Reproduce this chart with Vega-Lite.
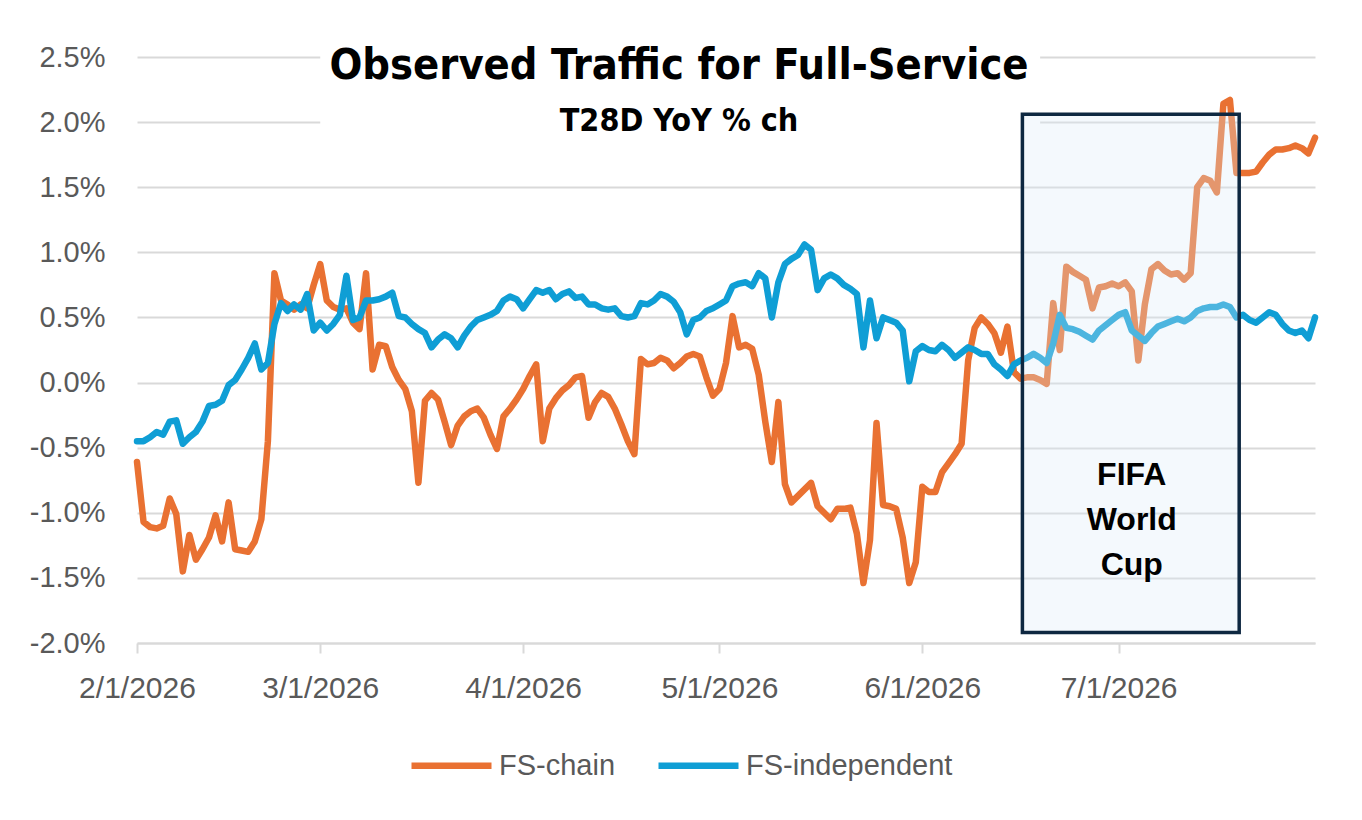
{
  "$schema": "https://vega.github.io/schema/vega-lite/v6.json",
  "width": 1178,
  "height": 586,
  "autosize": {"type": "none"},
  "padding": {"left": 137, "top": 57, "right": 47, "bottom": 177},
  "background": "white",
  "title": {
    "text": "Observed Traffic for Full-Service",
    "subtitle": "T28D YoY % ch",
    "anchor": "middle",
    "dx": -47,
    "offset": -96,
    "zindex": 1,
    "font": "Liberation Sans Narrow, DejaVu Sans Condensed, sans-serif",
    "fontSize": 43,
    "fontWeight": "bold",
    "color": "black",
    "subtitleFont": "Liberation Sans Narrow, DejaVu Sans Condensed, sans-serif",
    "subtitleFontSize": 32,
    "subtitleFontWeight": "bold",
    "subtitleColor": "black",
    "subtitlePadding": 18
  },
  "encoding": {
    "x": {
      "field": "d",
      "type": "temporal",
      "title": null,
      "scale": {
        "type": "utc",
        "domain": [
          {"year": 2026, "month": 2, "date": 1, "utc": true},
          {"year": 2026, "month": 7, "date": 31, "utc": true}
        ]
      },
      "axis": {
        "values": [
          {"year": 2026, "month": 2, "date": 1, "utc": true},
          {"year": 2026, "month": 3, "date": 1, "utc": true},
          {"year": 2026, "month": 4, "date": 1, "utc": true},
          {"year": 2026, "month": 5, "date": 1, "utc": true},
          {"year": 2026, "month": 6, "date": 1, "utc": true},
          {"year": 2026, "month": 7, "date": 1, "utc": true}
        ],
        "format": "%-m/%-d/%Y",
        "grid": false,
        "labelFlush": false,
        "labelOverlap": false,
        "domainColor": "#d9d9d9",
        "domainWidth": 2,
        "tickColor": "#d9d9d9",
        "tickWidth": 2,
        "tickSize": 10,
        "labelFontSize": 30,
        "labelColor": "#595959",
        "labelPadding": 20
      }
    },
    "y": {
      "field": "v",
      "type": "quantitative",
      "title": null,
      "scale": {"domain": [-2, 2.5], "nice": false, "zero": false},
      "axis": {
        "values": [-2, -1.5, -1, -0.5, 0, 0.5, 1, 1.5, 2, 2.5],
        "labelExpr": "(datum.value < 0 ? '-' : '') + format(abs(datum.value), '.1f') + '%'",
        "grid": true,
        "gridColor": "#d9d9d9",
        "gridWidth": 2,
        "domain": false,
        "ticks": false,
        "labelFontSize": 29,
        "labelColor": "#595959",
        "labelPadding": 32
      }
    }
  },
  "layer": [
    {
      "data": {"values": [{"d": "2026-03-01", "d2": "2026-06-19", "v": 1.96, "v2": 2.62}]},
      "mark": {"type": "rect", "fill": "white", "clip": false},
      "encoding": {
        "x2": {"field": "d2"},
        "y2": {"field": "v2"}
      }
    },
    {
      "data": {
        "values": [
          {"d": "2026-02-01", "FS-chain": -0.61, "FS-independent": -0.45},
          {"d": "2026-02-02", "FS-chain": -1.07, "FS-independent": -0.45},
          {"d": "2026-02-03", "FS-chain": -1.11, "FS-independent": -0.42},
          {"d": "2026-02-04", "FS-chain": -1.12, "FS-independent": -0.38},
          {"d": "2026-02-05", "FS-chain": -1.10, "FS-independent": -0.40},
          {"d": "2026-02-06", "FS-chain": -0.89, "FS-independent": -0.30},
          {"d": "2026-02-07", "FS-chain": -1.01, "FS-independent": -0.29},
          {"d": "2026-02-08", "FS-chain": -1.45, "FS-independent": -0.47},
          {"d": "2026-02-09", "FS-chain": -1.17, "FS-independent": -0.42},
          {"d": "2026-02-10", "FS-chain": -1.36, "FS-independent": -0.38},
          {"d": "2026-02-11", "FS-chain": -1.28, "FS-independent": -0.30},
          {"d": "2026-02-12", "FS-chain": -1.19, "FS-independent": -0.18},
          {"d": "2026-02-13", "FS-chain": -1.02, "FS-independent": -0.17},
          {"d": "2026-02-14", "FS-chain": -1.22, "FS-independent": -0.14},
          {"d": "2026-02-15", "FS-chain": -0.92, "FS-independent": -0.02},
          {"d": "2026-02-16", "FS-chain": -1.28, "FS-independent": 0.02},
          {"d": "2026-02-17", "FS-chain": -1.29, "FS-independent": 0.10},
          {"d": "2026-02-18", "FS-chain": -1.30, "FS-independent": 0.19},
          {"d": "2026-02-19", "FS-chain": -1.22, "FS-independent": 0.30},
          {"d": "2026-02-20", "FS-chain": -1.05, "FS-independent": 0.10},
          {"d": "2026-02-21", "FS-chain": -0.45, "FS-independent": 0.15},
          {"d": "2026-02-22", "FS-chain": 0.84, "FS-independent": 0.45},
          {"d": "2026-02-23", "FS-chain": 0.63, "FS-independent": 0.61},
          {"d": "2026-02-24", "FS-chain": 0.60, "FS-independent": 0.55},
          {"d": "2026-02-25", "FS-chain": 0.56, "FS-independent": 0.60},
          {"d": "2026-02-26", "FS-chain": 0.60, "FS-independent": 0.56},
          {"d": "2026-02-27", "FS-chain": 0.57, "FS-independent": 0.68},
          {"d": "2026-02-28", "FS-chain": 0.75, "FS-independent": 0.40},
          {"d": "2026-03-01", "FS-chain": 0.91, "FS-independent": 0.46},
          {"d": "2026-03-02", "FS-chain": 0.63, "FS-independent": 0.40},
          {"d": "2026-03-03", "FS-chain": 0.58, "FS-independent": 0.45},
          {"d": "2026-03-04", "FS-chain": 0.56, "FS-independent": 0.52},
          {"d": "2026-03-05", "FS-chain": 0.57, "FS-independent": 0.82},
          {"d": "2026-03-06", "FS-chain": 0.46, "FS-independent": 0.48},
          {"d": "2026-03-07", "FS-chain": 0.41, "FS-independent": 0.50},
          {"d": "2026-03-08", "FS-chain": 0.84, "FS-independent": 0.63},
          {"d": "2026-03-09", "FS-chain": 0.10, "FS-independent": 0.63},
          {"d": "2026-03-10", "FS-chain": 0.29, "FS-independent": 0.64},
          {"d": "2026-03-11", "FS-chain": 0.28, "FS-independent": 0.66},
          {"d": "2026-03-12", "FS-chain": 0.12, "FS-independent": 0.69},
          {"d": "2026-03-13", "FS-chain": 0.02, "FS-independent": 0.51},
          {"d": "2026-03-14", "FS-chain": -0.05, "FS-independent": 0.50},
          {"d": "2026-03-15", "FS-chain": -0.22, "FS-independent": 0.45},
          {"d": "2026-03-16", "FS-chain": -0.77, "FS-independent": 0.41},
          {"d": "2026-03-17", "FS-chain": -0.14, "FS-independent": 0.38},
          {"d": "2026-03-18", "FS-chain": -0.08, "FS-independent": 0.27},
          {"d": "2026-03-19", "FS-chain": -0.13, "FS-independent": 0.33},
          {"d": "2026-03-20", "FS-chain": -0.30, "FS-independent": 0.37},
          {"d": "2026-03-21", "FS-chain": -0.48, "FS-independent": 0.34},
          {"d": "2026-03-22", "FS-chain": -0.33, "FS-independent": 0.27},
          {"d": "2026-03-23", "FS-chain": -0.26, "FS-independent": 0.36},
          {"d": "2026-03-24", "FS-chain": -0.22, "FS-independent": 0.43},
          {"d": "2026-03-25", "FS-chain": -0.20, "FS-independent": 0.48},
          {"d": "2026-03-26", "FS-chain": -0.27, "FS-independent": 0.50},
          {"d": "2026-03-27", "FS-chain": -0.40, "FS-independent": 0.52},
          {"d": "2026-03-28", "FS-chain": -0.51, "FS-independent": 0.55},
          {"d": "2026-03-29", "FS-chain": -0.26, "FS-independent": 0.63},
          {"d": "2026-03-30", "FS-chain": -0.20, "FS-independent": 0.66},
          {"d": "2026-03-31", "FS-chain": -0.13, "FS-independent": 0.64},
          {"d": "2026-04-01", "FS-chain": -0.05, "FS-independent": 0.57},
          {"d": "2026-04-02", "FS-chain": 0.05, "FS-independent": 0.64},
          {"d": "2026-04-03", "FS-chain": 0.14, "FS-independent": 0.71},
          {"d": "2026-04-04", "FS-chain": -0.45, "FS-independent": 0.69},
          {"d": "2026-04-05", "FS-chain": -0.20, "FS-independent": 0.71},
          {"d": "2026-04-06", "FS-chain": -0.12, "FS-independent": 0.64},
          {"d": "2026-04-07", "FS-chain": -0.06, "FS-independent": 0.68},
          {"d": "2026-04-08", "FS-chain": -0.02, "FS-independent": 0.70},
          {"d": "2026-04-09", "FS-chain": 0.04, "FS-independent": 0.65},
          {"d": "2026-04-10", "FS-chain": 0.05, "FS-independent": 0.66},
          {"d": "2026-04-11", "FS-chain": -0.27, "FS-independent": 0.60},
          {"d": "2026-04-12", "FS-chain": -0.15, "FS-independent": 0.60},
          {"d": "2026-04-13", "FS-chain": -0.08, "FS-independent": 0.57},
          {"d": "2026-04-14", "FS-chain": -0.11, "FS-independent": 0.56},
          {"d": "2026-04-15", "FS-chain": -0.20, "FS-independent": 0.57},
          {"d": "2026-04-16", "FS-chain": -0.32, "FS-independent": 0.51},
          {"d": "2026-04-17", "FS-chain": -0.45, "FS-independent": 0.50},
          {"d": "2026-04-18", "FS-chain": -0.55, "FS-independent": 0.51},
          {"d": "2026-04-19", "FS-chain": 0.18, "FS-independent": 0.61},
          {"d": "2026-04-20", "FS-chain": 0.14, "FS-independent": 0.60},
          {"d": "2026-04-21", "FS-chain": 0.15, "FS-independent": 0.63},
          {"d": "2026-04-22", "FS-chain": 0.19, "FS-independent": 0.68},
          {"d": "2026-04-23", "FS-chain": 0.17, "FS-independent": 0.66},
          {"d": "2026-04-24", "FS-chain": 0.11, "FS-independent": 0.62},
          {"d": "2026-04-25", "FS-chain": 0.15, "FS-independent": 0.54},
          {"d": "2026-04-26", "FS-chain": 0.20, "FS-independent": 0.37},
          {"d": "2026-04-27", "FS-chain": 0.22, "FS-independent": 0.48},
          {"d": "2026-04-28", "FS-chain": 0.20, "FS-independent": 0.50},
          {"d": "2026-04-29", "FS-chain": 0.04, "FS-independent": 0.55},
          {"d": "2026-04-30", "FS-chain": -0.10, "FS-independent": 0.57},
          {"d": "2026-05-01", "FS-chain": -0.05, "FS-independent": 0.60},
          {"d": "2026-05-02", "FS-chain": 0.15, "FS-independent": 0.63},
          {"d": "2026-05-03", "FS-chain": 0.51, "FS-independent": 0.74},
          {"d": "2026-05-04", "FS-chain": 0.27, "FS-independent": 0.76},
          {"d": "2026-05-05", "FS-chain": 0.29, "FS-independent": 0.77},
          {"d": "2026-05-06", "FS-chain": 0.26, "FS-independent": 0.74},
          {"d": "2026-05-07", "FS-chain": 0.06, "FS-independent": 0.84},
          {"d": "2026-05-08", "FS-chain": -0.30, "FS-independent": 0.80},
          {"d": "2026-05-09", "FS-chain": -0.61, "FS-independent": 0.50},
          {"d": "2026-05-10", "FS-chain": -0.15, "FS-independent": 0.77},
          {"d": "2026-05-11", "FS-chain": -0.78, "FS-independent": 0.91},
          {"d": "2026-05-12", "FS-chain": -0.92, "FS-independent": 0.95},
          {"d": "2026-05-13", "FS-chain": -0.87, "FS-independent": 0.98},
          {"d": "2026-05-14", "FS-chain": -0.82, "FS-independent": 1.06},
          {"d": "2026-05-15", "FS-chain": -0.77, "FS-independent": 1.02},
          {"d": "2026-05-16", "FS-chain": -0.95, "FS-independent": 0.71},
          {"d": "2026-05-17", "FS-chain": -1.00, "FS-independent": 0.80},
          {"d": "2026-05-18", "FS-chain": -1.05, "FS-independent": 0.83},
          {"d": "2026-05-19", "FS-chain": -0.97, "FS-independent": 0.80},
          {"d": "2026-05-20", "FS-chain": -0.97, "FS-independent": 0.75},
          {"d": "2026-05-21", "FS-chain": -0.96, "FS-independent": 0.72},
          {"d": "2026-05-22", "FS-chain": -1.16, "FS-independent": 0.68},
          {"d": "2026-05-23", "FS-chain": -1.54, "FS-independent": 0.27},
          {"d": "2026-05-24", "FS-chain": -1.21, "FS-independent": 0.63},
          {"d": "2026-05-25", "FS-chain": -0.31, "FS-independent": 0.34},
          {"d": "2026-05-26", "FS-chain": -0.94, "FS-independent": 0.50},
          {"d": "2026-05-27", "FS-chain": -0.95, "FS-independent": 0.48},
          {"d": "2026-05-28", "FS-chain": -0.97, "FS-independent": 0.46},
          {"d": "2026-05-29", "FS-chain": -1.19, "FS-independent": 0.40},
          {"d": "2026-05-30", "FS-chain": -1.54, "FS-independent": 0.01},
          {"d": "2026-05-31", "FS-chain": -1.38, "FS-independent": 0.24},
          {"d": "2026-06-01", "FS-chain": -0.80, "FS-independent": 0.28},
          {"d": "2026-06-02", "FS-chain": -0.84, "FS-independent": 0.25},
          {"d": "2026-06-03", "FS-chain": -0.84, "FS-independent": 0.24},
          {"d": "2026-06-04", "FS-chain": -0.69, "FS-independent": 0.29},
          {"d": "2026-06-05", "FS-chain": -0.62, "FS-independent": 0.25},
          {"d": "2026-06-06", "FS-chain": -0.55, "FS-independent": 0.19},
          {"d": "2026-06-07", "FS-chain": -0.47, "FS-independent": 0.23},
          {"d": "2026-06-08", "FS-chain": 0.17, "FS-independent": 0.27},
          {"d": "2026-06-09", "FS-chain": 0.42, "FS-independent": 0.25},
          {"d": "2026-06-10", "FS-chain": 0.50, "FS-independent": 0.22},
          {"d": "2026-06-11", "FS-chain": 0.45, "FS-independent": 0.22},
          {"d": "2026-06-12", "FS-chain": 0.38, "FS-independent": 0.14},
          {"d": "2026-06-13", "FS-chain": 0.23, "FS-independent": 0.10},
          {"d": "2026-06-14", "FS-chain": 0.43, "FS-independent": 0.05},
          {"d": "2026-06-15", "FS-chain": 0.08, "FS-independent": 0.14},
          {"d": "2026-06-16", "FS-chain": 0.03, "FS-independent": 0.17},
          {"d": "2026-06-17", "FS-chain": 0.04, "FS-independent": 0.19},
          {"d": "2026-06-18", "FS-chain": 0.04, "FS-independent": 0.22},
          {"d": "2026-06-19", "FS-chain": 0.02, "FS-independent": 0.19},
          {"d": "2026-06-20", "FS-chain": -0.01, "FS-independent": 0.15},
          {"d": "2026-06-21", "FS-chain": 0.61, "FS-independent": 0.30},
          {"d": "2026-06-22", "FS-chain": 0.25, "FS-independent": 0.52},
          {"d": "2026-06-23", "FS-chain": 0.89, "FS-independent": 0.42},
          {"d": "2026-06-24", "FS-chain": 0.85, "FS-independent": 0.41},
          {"d": "2026-06-25", "FS-chain": 0.82, "FS-independent": 0.39},
          {"d": "2026-06-26", "FS-chain": 0.79, "FS-independent": 0.36},
          {"d": "2026-06-27", "FS-chain": 0.57, "FS-independent": 0.33},
          {"d": "2026-06-28", "FS-chain": 0.73, "FS-independent": 0.40},
          {"d": "2026-06-29", "FS-chain": 0.74, "FS-independent": 0.44},
          {"d": "2026-06-30", "FS-chain": 0.76, "FS-independent": 0.48},
          {"d": "2026-07-01", "FS-chain": 0.74, "FS-independent": 0.52},
          {"d": "2026-07-02", "FS-chain": 0.77, "FS-independent": 0.54},
          {"d": "2026-07-03", "FS-chain": 0.70, "FS-independent": 0.40},
          {"d": "2026-07-04", "FS-chain": 0.17, "FS-independent": 0.36},
          {"d": "2026-07-05", "FS-chain": 0.60, "FS-independent": 0.32},
          {"d": "2026-07-06", "FS-chain": 0.87, "FS-independent": 0.38},
          {"d": "2026-07-07", "FS-chain": 0.91, "FS-independent": 0.43},
          {"d": "2026-07-08", "FS-chain": 0.86, "FS-independent": 0.45},
          {"d": "2026-07-09", "FS-chain": 0.83, "FS-independent": 0.47},
          {"d": "2026-07-10", "FS-chain": 0.84, "FS-independent": 0.49},
          {"d": "2026-07-11", "FS-chain": 0.79, "FS-independent": 0.47},
          {"d": "2026-07-12", "FS-chain": 0.84, "FS-independent": 0.50},
          {"d": "2026-07-13", "FS-chain": 1.50, "FS-independent": 0.55},
          {"d": "2026-07-14", "FS-chain": 1.57, "FS-independent": 0.57},
          {"d": "2026-07-15", "FS-chain": 1.55, "FS-independent": 0.58},
          {"d": "2026-07-16", "FS-chain": 1.46, "FS-independent": 0.58},
          {"d": "2026-07-17", "FS-chain": 2.14, "FS-independent": 0.60},
          {"d": "2026-07-18", "FS-chain": 2.17, "FS-independent": 0.58},
          {"d": "2026-07-19", "FS-chain": 1.61, "FS-independent": 0.50},
          {"d": "2026-07-20", "FS-chain": 1.61, "FS-independent": 0.52},
          {"d": "2026-07-21", "FS-chain": 1.61, "FS-independent": 0.48},
          {"d": "2026-07-22", "FS-chain": 1.62, "FS-independent": 0.46},
          {"d": "2026-07-23", "FS-chain": 1.69, "FS-independent": 0.50},
          {"d": "2026-07-24", "FS-chain": 1.75, "FS-independent": 0.54},
          {"d": "2026-07-25", "FS-chain": 1.79, "FS-independent": 0.52},
          {"d": "2026-07-26", "FS-chain": 1.79, "FS-independent": 0.45},
          {"d": "2026-07-27", "FS-chain": 1.80, "FS-independent": 0.40},
          {"d": "2026-07-28", "FS-chain": 1.82, "FS-independent": 0.38},
          {"d": "2026-07-29", "FS-chain": 1.80, "FS-independent": 0.40},
          {"d": "2026-07-30", "FS-chain": 1.76, "FS-independent": 0.34},
          {"d": "2026-07-31", "FS-chain": 1.88, "FS-independent": 0.50}
        ]
      },
      "transform": [
        {"fold": ["FS-chain", "FS-independent"], "as": ["s", "v"]}
      ],
      "mark": {"type": "line", "strokeWidth": 6.5, "strokeCap": "round", "strokeJoin": "round"},
      "encoding": {
        "color": {
          "field": "s",
          "type": "nominal",
          "scale": {"domain": ["FS-chain", "FS-independent"], "range": ["#e97132", "#0f9ed5"]},
          "legend": {
            "title": null,
            "orient": "none",
            "legendX": 271,
            "legendY": 665,
            "direction": "horizontal",
            "symbolType": "stroke",
            "symbolSize": 6400,
            "symbolStrokeWidth": 6.5,
            "labelFont": "Liberation Sans",
            "labelFontSize": 29,
            "labelColor": "#595959",
            "labelLimit": 400,
            "labelOffset": 4,
            "columnPadding": 29
          }
        }
      }
    },
    {
      "data": {"values": [{"d": "2026-06-16T07:00:00Z", "d2": "2026-07-19T10:00:00Z", "v": -1.92, "v2": 2.06}]},
      "mark": {"type": "rect", "fill": "#dceaf7", "fillOpacity": 0.3, "stroke": "#0e2841", "strokeWidth": 3.5, "clip": false},
      "encoding": {
        "x2": {"field": "d2"},
        "y2": {"field": "v2"}
      }
    },
    {
      "data": {"values": [{"d": "2026-07-03", "v": -0.71, "t": "FIFA\nWorld\nCup"}]},
      "mark": {
        "type": "text",
        "lineBreak": "\n",
        "lineHeight": 45,
        "align": "center",
        "baseline": "middle",
        "font": "Liberation Sans",
        "fontSize": 32,
        "fontWeight": "bold",
        "color": "black"
      },
      "encoding": {
        "text": {"field": "t", "type": "nominal"}
      }
    }
  ],
  "config": {
    "view": {"stroke": null},
    "font": "Liberation Sans"
  }
}
